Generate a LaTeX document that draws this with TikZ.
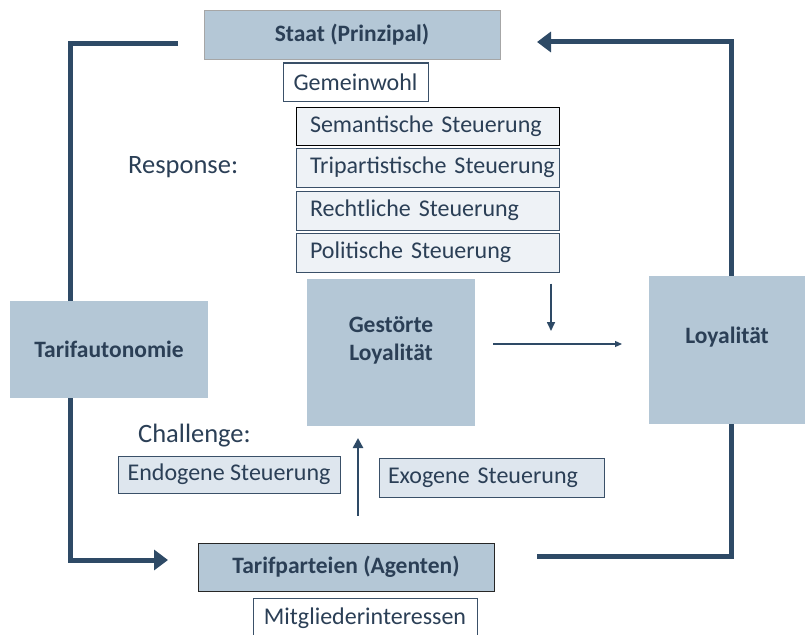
\documentclass[tikz,border=0pt]{standalone}
\usepackage{fontspec}
\setmainfont{Carlito}
\usetikzlibrary{arrows.meta}
\definecolor{boxblue}{HTML}{B4C7D6}
\definecolor{navy}{HTML}{2E4A66}
\definecolor{txt}{HTML}{2B3F56}
\definecolor{paleA}{HTML}{EEF2F6}
\definecolor{paleB}{HTML}{DEE6EE}
\definecolor{edge}{HTML}{3A5068}
\tikzset{
  mainbox/.style={rectangle, fill=boxblue, inner sep=0pt, text=txt, font=\fontsize{23.5}{28}\selectfont\bfseries, align=center},
  boxlabel/.style={inner sep=0pt, text=txt, font=\fontsize{23.5}{28}\selectfont\bfseries, align=center},
  framedmain/.style={mainbox, draw=#1, line width=1pt},
  steerbox/.style={rectangle, fill=paleA, draw=edge, line width=1pt, inner sep=0pt, text=txt, font=\fontsize{24}{28}\selectfont, anchor=west, align=left},
  whitebox/.style={rectangle, fill=white, draw=edge, line width=1pt, inner sep=0pt, text=txt, font=\fontsize{24}{28}\selectfont},
  chbox/.style={rectangle, fill=paleB, draw=edge, line width=1pt, inner sep=0pt, text=txt, font=\fontsize{24}{28}\selectfont},
  plain/.style={text=txt, font=\fontsize{26.5}{30}\selectfont, inner sep=0pt, anchor=west},
  loopline/.style={draw=navy, line width=5pt},
  looparrow/.style={loopline, -{Triangle[length=14pt,width=20pt]}},
  thinarrow/.style={draw=navy, line width=1.6pt, -{Triangle[length=9pt,width=8pt]}},
  hairarrow/.style={draw=navy, line width=1.2pt, -{Triangle[length=7pt,width=6pt]}}
}
\begin{document}
\begin{tikzpicture}[x=1pt,y=-1pt]
\useasboundingbox (0,0) rectangle (805,634);
% loops
\coordinate (lstart) at (178,44);
\coordinate (lend) at (168,560);
\coordinate (rtip) at (537,42);
\coordinate (rbot) at (537,556);
\node[mainbox, minimum width=156pt, minimum height=148pt, label={[boxlabel, yshift=13pt]center:Loyalität}] (loy) at (727,350) {};
\draw[looparrow] (lstart) -- (70,44) -- (70,560) -- (lend);
\draw[looparrow] (loy.north -| 731,0) -- (731,42) -- (rtip);
\draw[loopline] (loy.south -| 731,0) -- (731,556) -- (rbot);
% main boxes
\node[framedmain=gray!70, line width=0.8pt, minimum width=296pt, minimum height=49pt] (staat) at (352,34.5) {Staat (Prinzipal)};
\node[whitebox, minimum width=145pt, minimum height=38pt] (gem) at (355.5,82) {Gemeinwohl};
\node[steerbox, draw=black, minimum width=263pt, minimum height=38pt, text width=254pt] (sem) at (296,126) {\hspace*{9pt}Semantische Steuerung};
\node[steerbox, minimum width=263pt, minimum height=39pt, text width=254pt] (tri) at (296,167.5) {\hspace*{9pt}Tripartistische Steuerung};
\node[steerbox, minimum width=263pt, minimum height=39pt, text width=254pt] (rec) at (296,210.5) {\hspace*{9pt}Rechtliche Steuerung};
\node[steerbox, minimum width=263pt, minimum height=39pt, text width=254pt] (pol) at (296,252.5) {\hspace*{9pt}Politische Steuerung};
\node[plain] (resp) at (128,167) {Response:};
\node[mainbox, minimum width=168pt, minimum height=147pt, label={[boxlabel, yshift=12pt]center:Gestörte\\Loyalität}] (gest) at (391,352.5) {};
\node[mainbox, minimum width=198pt, minimum height=97pt] (tarauto) at (109,349.5) {Tarifautonomie};
\node[plain] (chal) at (138,436) {Challenge:};
\node[chbox, minimum width=222pt, minimum height=37pt] (endo) at (229,474.5) {Endogene Steuerung};
\node[chbox, minimum width=225pt, minimum height=39pt, text width=215pt, align=left] (exo) at (491.5,477.5) {\hspace*{4pt}Exogene Steuerung};
\node[framedmain=black!85, minimum width=296pt, minimum height=48pt] (tarp) at (346,567) {Tarifparteien (Agenten)};
\node[whitebox, minimum width=224pt, minimum height=40pt] (mit) at (365,618) {Mitgliederinteressen};
% inner arrows
\coordinate (dtip) at (551,331);
\draw[thinarrow] (pol.south -| dtip) ++(0,11) -- (dtip);
\coordinate (htip) at (622,344);
\draw[hairarrow] (gest.east |- htip) ++(18,0) -- (htip);
\coordinate (utip) at (358,438);
\draw[draw=navy, line width=2.5pt, -{Triangle[length=10pt,width=10pt]}] (tarp.north -| utip) ++(0,-27) -- (utip);
\end{tikzpicture}
\end{document}
